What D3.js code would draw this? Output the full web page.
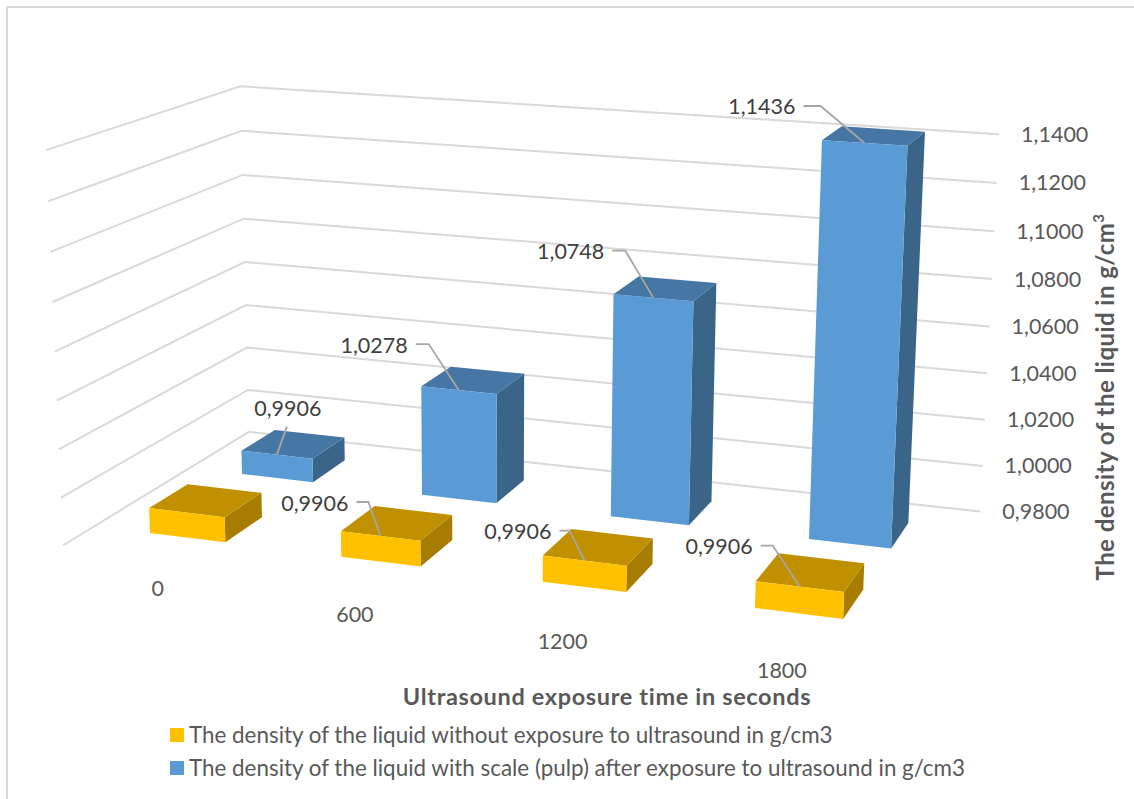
<!DOCTYPE html>
<html>
<head>
<meta charset="utf-8">
<script src="https://cdnjs.cloudflare.com/ajax/libs/d3/7.8.5/d3.min.js"></script>
<style>
  html, body { margin: 0; background: #fff; }
  svg { display: block; font-family: Lato, "Open Sans", sans-serif; }
</style>
</head>
<body>
<svg id="chart" width="1134" height="799"></svg>
<script>
// Exposure times on the category axis
const exposureTimes = ["0", "600", "1200", "1800"];
// Density values in g/cm3, one array per series
const withoutUltrasound = [0.9906, 0.9906, 0.9906, 0.9906];
const withUltrasound = [0.9906, 1.0278, 1.0748, 1.1436];
// Value axis ticks
const densityTicks = [0.98, 1.00, 1.02, 1.04, 1.06, 1.08, 1.10, 1.12, 1.14];
// Legend and axis wording
const seriesNames = [
  "The density of the liquid without exposure to ultrasound in g/cm3",
  "The density of the liquid with scale (pulp) after exposure to ultrasound in g/cm3"
];
const xTitle = "Ultrasound exposure time in seconds";
const yTitle = "The density of the liquid in g/cm";

const series = [
  { key: "without", values: withoutUltrasound, front: "#FFC000", top: "#C09000", side: "#A67D00" },
  { key: "with", values: withUltrasound, front: "#5B9BD5", top: "#4676A3", side: "#3B6489" }
];

// Offsets of each value label from the top edge of its bar
const labelLayout = {
  with: [
    { tip: [10, -28], text: [11, -44], anchor: "middle" },
    { elbow: [-30, -46], stub: 13, gap: 8, dy: 3 },
    { elbow: [-28, -47], stub: 13, gap: 8, dy: 3 },
    { elbow: [-44, -37], stub: 17, gap: 8, dy: 3 }
  ],
  without: [
    null,
    { elbow: [-12, -34], stub: 12, gap: 8, dy: 4 },
    { elbow: [-15, -30], stub: 10, gap: 8, dy: 3 },
    { elbow: [-27, -41], stub: 12, gap: 8, dy: 3 }
  ]
};

const svg = d3.select("#chart");
const commaLocale = d3.formatLocale({ decimal: ",", thousands: "", grouping: [3], currency: ["", ""] });
const fmt = commaLocale.format(".4f");

// Plot-box coordinates: u runs along the categories, w into the depth, t up the value axis
const uScale = d3.scaleBand().domain(exposureTimes).range([-0.1, 1.2333]).paddingInner(0.6).paddingOuter(0.3);
const wScale = d3.scaleBand().domain(series.map(s => s.key)).range([-0.3, 1.7]).paddingInner(0.6).paddingOuter(0.3);
const tScale = d3.scaleLinear().domain([0.98, 1.14]).range([0, 1]);

// Perspective camera turning plot-box coordinates into page pixels
const camera = {
  x: [548.3, 110, -18.6, 150],
  y: [29.34, -23.83, -395, 533],
  d: [-0.0751, 0.0742, -0.038, 1]
};
function project(u, w, t) {
  const dot = c => c[0] * u + c[1] * w + c[2] * t + c[3];
  const d = dot(camera.d);
  return [dot(camera.x) / d, dot(camera.y) / d];
}

const [uMin, uMax] = uScale.range();
const [wMin, wMax] = wScale.range();
const path = d3.line();

// Wall gridlines: front-left end, back corner, right end
svg.append("g").selectAll("path").data(densityTicks).join("path")
  .attr("d", v => {
    const t = tScale(v);
    return path([project(uMin, wMin, t), project(uMin, wMax, t), project(uMax, wMax, t)]);
  })
  .attr("fill", "none").attr("stroke", "#D9D9D9").attr("stroke-width", 2);

// Value axis labels
svg.append("g").selectAll("text").data(densityTicks).join("text")
  .attr("x", v => project(uMax, wMax, tScale(v))[0] + 22)
  .attr("y", v => project(uMax, wMax, tScale(v))[1] + 2)
  .attr("dominant-baseline", "middle")
  .attr("font-size", 21.5).attr("fill", "#595959")
  .text(fmt);

// Category labels sit below the front edge of the floor
svg.append("g").selectAll("text").data(exposureTimes).join("text")
  .attr("x", c => project(uScale(c) + uScale.bandwidth() / 2, wMin, 0)[0])
  .attr("y", (c, i) => project(uScale(c) + uScale.bandwidth() / 2, wMin, 0)[1] + 33 + i)
  .attr("text-anchor", "middle").attr("dominant-baseline", "middle")
  .attr("font-size", 21.5).attr("fill", "#595959")
  .text(c => c);

// Boxes, deepest series first so the nearer ones overlap them
const bu = uScale.bandwidth(), bw = wScale.bandwidth();
[...series].reverse().forEach(s => {
  const w0 = wScale(s.key);
  const boxes = svg.append("g").selectAll("g")
    .data(exposureTimes.map((c, i) => ({ c, v: s.values[i] })))
    .join("g");
  const face = (fill, corners) => boxes.append("path")
    .attr("fill", fill)
    .attr("d", d => {
      const u0 = uScale(d.c), t = tScale(d.v);
      return path(corners(u0, t)) + "Z";
    });
  face(s.side, (u0, t) => [project(u0 + bu, w0, 0), project(u0 + bu, w0 + bw, 0), project(u0 + bu, w0 + bw, t), project(u0 + bu, w0, t)]);
  face(s.top, (u0, t) => [project(u0, w0, t), project(u0 + bu, w0, t), project(u0 + bu, w0 + bw, t), project(u0, w0 + bw, t)]);
  face(s.front, (u0, t) => [project(u0, w0, 0), project(u0 + bu, w0, 0), project(u0 + bu, w0, t), project(u0, w0, t)]);
});

// Value labels with their leader lines
series.forEach(s => {
  s.values.forEach((v, i) => {
    const spec = labelLayout[s.key][i];
    if (!spec) return;
    const c = exposureTimes[i];
    const end = project(uScale(c) + bu / 2, wScale(s.key), tScale(v));
    let pts, tx, ty, anchor;
    if (spec.elbow) {
      const elbow = [end[0] + spec.elbow[0], end[1] + spec.elbow[1]];
      const stubEnd = [elbow[0] - spec.stub, elbow[1]];
      pts = [end, elbow, stubEnd];
      tx = stubEnd[0] - spec.gap; ty = elbow[1] + spec.dy; anchor = "end";
    } else {
      pts = [end, [end[0] + spec.tip[0], end[1] + spec.tip[1]]];
      tx = end[0] + spec.text[0]; ty = end[1] + spec.text[1]; anchor = spec.anchor;
    }
    svg.append("path").attr("d", path(pts)).attr("fill", "none")
      .attr("stroke", "#A6A6A6").attr("stroke-width", 1.8);
    svg.append("text").attr("x", tx).attr("y", ty)
      .attr("text-anchor", anchor).attr("dominant-baseline", "middle")
      .attr("font-size", 21.5).attr("fill", "#404040")
      .text(fmt(v));
  });
});

// Axis titles
svg.append("text").attr("x", 607).attr("y", 699)
  .attr("text-anchor", "middle").attr("dominant-baseline", "middle")
  .attr("font-size", 23.5).attr("letter-spacing", 0.65).attr("font-weight", 700).attr("fill", "#595959")
  .text(xTitle);
const yt = svg.append("text")
  .attr("transform", "translate(1108,397) rotate(-90)")
  .attr("text-anchor", "middle").attr("dominant-baseline", "middle")
  .attr("font-size", 24).attr("letter-spacing", 0.45).attr("font-weight", 700).attr("fill", "#595959");
yt.append("tspan").text(yTitle);
yt.append("tspan").attr("dy", -8).attr("font-size", 15).text("3");

// Legend
const legend = svg.append("g").selectAll("g").data(series).join("g")
  .attr("transform", (s, i) => `translate(170,${728 + i * 33})`);
legend.append("rect").attr("width", 14).attr("height", 14).attr("fill", s => s.front);
legend.append("text").attr("x", 19).attr("y", 9)
  .attr("dominant-baseline", "middle").attr("font-size", 22.4).attr("fill", "#595959")
  .text((s, i) => seriesNames[i]);

// Chart frame
svg.append("path").attr("d", "M7,799V7H1134").attr("fill", "none").attr("stroke", "#D9D9D9").attr("stroke-width", 2);
</script>
</body>
</html>
